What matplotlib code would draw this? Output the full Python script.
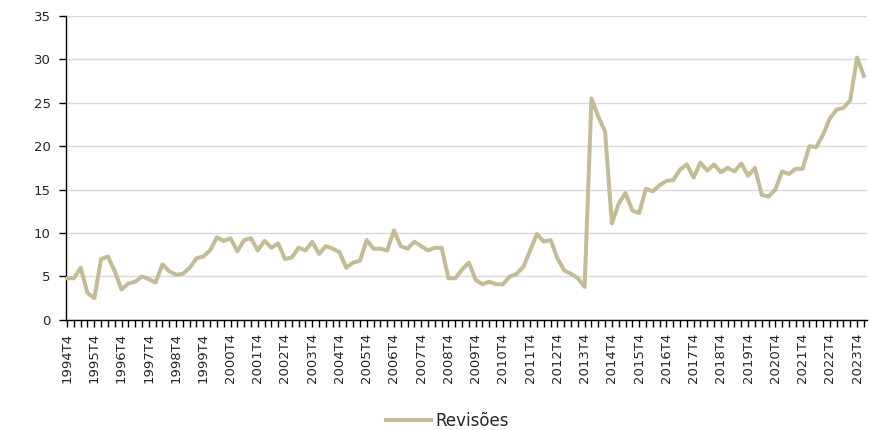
import matplotlib
matplotlib.use("Agg")
import matplotlib.pyplot as plt
import numpy as np

years = list(range(1994, 2025))
quarters = []
y0, q0 = 1994, 4
for k in range(118):
    q = (q0 - 1 + k) % 4 + 1
    y = y0 + (q0 - 1 + k) // 4
    quarters.append(f"{y}T{q}")

revisoes = [
    4.8, 4.8, 6.0, 3.1, 2.5, 7.0, 7.3, 5.6, 3.5, 4.2,
    4.4, 5.0, 4.7, 4.3, 6.4, 5.6, 5.2, 5.3, 6.0, 7.1,
    7.3, 8.0, 9.5, 9.1, 9.4, 7.9, 9.2, 9.4, 8.0, 9.1,
    8.3, 8.8, 7.0, 7.2, 8.3, 8.0, 9.0, 7.6, 8.5, 8.2,
    7.8, 6.0, 6.6, 6.8, 9.2, 8.2, 8.2, 8.0, 10.3, 8.5,
    8.2, 9.0, 8.5, 8.0, 8.3, 8.3, 4.8, 4.8, 5.8, 6.6,
    4.6, 4.1, 4.4, 4.1, 4.1, 5.0, 5.3, 6.1, 8.0, 9.9,
    9.0, 9.2, 7.1, 5.7, 5.3, 4.8, 3.8, 25.5, 23.4, 21.7,
    11.1, 13.4, 14.6, 12.6, 12.3, 15.1, 14.8, 15.5, 16.0, 16.1,
    17.3, 17.9, 16.4, 18.1, 17.2, 17.9, 17.0, 17.5, 17.1, 18.0,
    16.6, 17.5, 14.4, 14.2, 15.0, 17.1, 16.8, 17.4, 17.4, 20.0,
    19.9, 21.3, 23.2, 24.2, 24.4, 25.3, 30.2, 28.1,
]

line_color = "#C4BC96"
text_color = "#262626"

fig = plt.figure(figsize=(8.69, 4.30), dpi=100)
ax = fig.add_axes([0.076, 0.256, 0.922, 0.707])

x = np.arange(len(revisoes))
ax.plot(x, revisoes, color=line_color, lw=2.9, solid_joinstyle="round", label="Revisões", zorder=3)

ax.set_ylim(0, 35)
ax.set_yticks(range(0, 36, 5))
ax.set_xlim(-0.15, len(revisoes) - 0.5)

ax.set_xticks(x, minor=True)
major_idx = [i for i, q in enumerate(quarters) if q.endswith("T4")]
ax.set_xticks(major_idx)
ax.set_xticklabels([quarters[i] for i in major_idx], rotation=90)

ax.grid(axis="y", color="#D9D9D9", lw=1.0, zorder=0)
for s in ["top", "right"]:
    ax.spines[s].set_visible(False)
ax.spines["left"].set_color("#000000")
ax.spines["bottom"].set_color("#000000")
ax.spines["left"].set_linewidth(1.0)
ax.spines["bottom"].set_linewidth(1.0)

ax.tick_params(axis="y", length=5, width=1, pad=6, labelsize=9.5, labelcolor=text_color)
ax.tick_params(axis="x", which="both", length=5, width=1, pad=4, labelsize=9.5, labelcolor=text_color)

leg = fig.legend(loc="center", bbox_to_anchor=(0.515, 0.022), frameon=False,
                 fontsize=12, handlelength=2.7, handletextpad=0.3, borderpad=0.1)
for t in leg.get_texts():
    t.set_color(text_color)

fig.savefig("out.png", dpi=100)
